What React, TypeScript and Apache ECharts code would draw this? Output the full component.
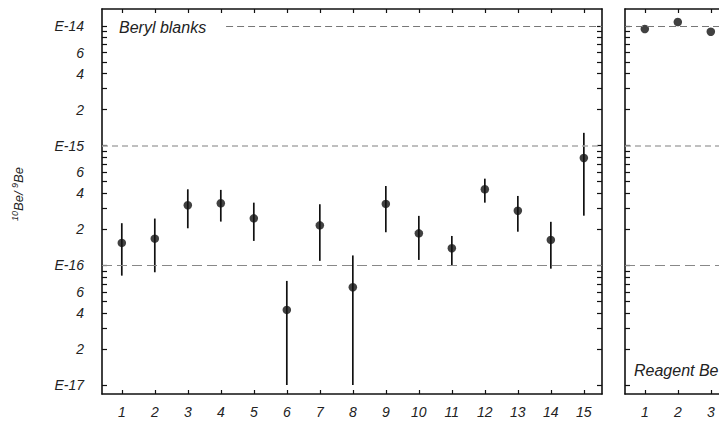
import React, { useEffect, useRef } from "react";
import * as echarts from "echarts";

// ---- data ----
const berylSamples = [1, 2, 3, 4, 5, 6, 7, 8, 9, 10, 11, 12, 13, 14, 15];
const berylRatio = [1.54e-16, 1.67e-16, 3.18e-16, 3.3e-16, 2.47e-16, 4.24e-17, 2.16e-16, 6.56e-17, 3.26e-16, 1.85e-16, 1.39e-16, 4.32e-16, 2.86e-16, 1.63e-16, 7.89e-16];
const berylHigh = [2.25e-16, 2.46e-16, 4.32e-16, 4.27e-16, 3.34e-16, 7.41e-17, 3.24e-16, 1.21e-16, 4.6e-16, 2.59e-16, 1.76e-16, 5.3e-16, 3.8e-16, 2.31e-16, 1.28e-15];
const berylLow = [8.2e-17, 8.75e-17, 2.04e-16, 2.32e-16, 1.6e-16, 1.0e-17, 1.09e-16, 1.0e-17, 1.89e-16, 1.11e-16, 1.0e-16, 3.34e-16, 1.91e-16, 9.38e-17, 2.6e-16];

const reagentSamples = [1, 2, 3];
const reagentRatio = [9.44e-15, 1.08e-14, 8.96e-15];

const xTicks = [1, 2, 3, 4, 5, 6, 7, 8, 9, 10, 11, 12, 13, 14, 15];
const reagentLabels = [1, 2, 3];
const yTicks = [
  1e-17, 2e-17, 3e-17, 4e-17, 5e-17, 6e-17, 7e-17, 8e-17, 9e-17,
  1e-16, 2e-16, 3e-16, 4e-16, 5e-16, 6e-16, 7e-16, 8e-16, 9e-16,
  1e-15, 2e-15, 3e-15, 4e-15, 5e-15, 6e-15, 7e-15, 8e-15, 9e-15,
  1e-14,
];
const yLabelValues = [1e-17, 2e-17, 4e-17, 6e-17, 1e-16, 2e-16, 4e-16, 6e-16, 1e-15, 2e-15, 4e-15, 6e-15, 1e-14];
const refLevels = [1e-14, 1e-15, 1e-16];

const Y_MIN = 8.41e-18;
const Y_MAX = 1.387e-14;
const X_MIN = 0.4;
const X_MAX = 15.55;

const FONT = "'Liberation Sans', Arial, Helvetica, sans-serif";

function fmtY(v: number): string {
  const e = Math.round(Math.log10(v));
  const m = v / Math.pow(10, e);
  if (Math.abs(m - 1) < 1e-6) return "E" + e;
  return String(Math.round(v / Math.pow(10, Math.floor(Math.log10(v) + 1e-9))));
}

const axisLineStyle = { color: "#111", width: 1.6 };

function xAxisDef(gridIndex: number, position: "top" | "bottom", labels: boolean, labelValues: number[]) {
  return {
    type: "value",
    gridIndex,
    position,
    min: X_MIN,
    max: X_MAX,
    axisLine: { show: true, onZero: false, lineStyle: axisLineStyle },
    axisTick: { show: true, inside: true, length: 4, customValues: xTicks, lineStyle: { color: "#111", width: 1.2 } },
    axisLabel: {
      show: labels,
      customValues: labelValues,
      fontStyle: "italic",
      fontFamily: FONT,
      fontSize: 14,
      color: "#222",
      margin: 11,
    },
    splitLine: { show: false },
  };
}

function yAxisDef(gridIndex: number, position: "left" | "right", labels: boolean) {
  return {
    type: "log",
    logBase: 10,
    gridIndex,
    position,
    min: Y_MIN,
    max: Y_MAX,
    axisLine: { show: true, onZero: false, lineStyle: axisLineStyle },
    axisTick: { show: true, inside: true, length: 5, customValues: yTicks, lineStyle: { color: "#111", width: 1.2 } },
    axisLabel: {
      show: labels,
      customValues: yLabelValues,
      formatter: (v: number) => fmtY(v),
      fontStyle: "italic",
      fontFamily: FONT,
      fontSize: 14,
      color: "#222",
      margin: 18,
    },
    splitLine: { show: false },
    minorTick: { show: false },
  };
}

const dashStyles: any[] = [
  { color: "#777", width: 1, type: [7, 4] },
  { color: "#aaa", width: 1.6, type: [6, 4] },
  { color: "#888", width: 1, type: [10, 5] },
];

export default function App() {
  const ref = useRef<HTMLDivElement>(null);

  useEffect(() => {
    if (!ref.current) return;
    const chart = echarts.init(ref.current, undefined, { renderer: "svg" });

    const errData = berylSamples.map((s, i) => [s, berylLow[i], berylHigh[i]]);

    const leftLines = refLevels.map((lv, i) => [
      { coord: [i === 0 ? 4.16 : X_MIN, lv], lineStyle: dashStyles[i] },
      { coord: [X_MAX, lv] },
    ]);
    const rightLines = refLevels.map((lv, i) => [
      { coord: [X_MIN, lv], lineStyle: dashStyles[i] },
      { coord: [X_MAX, lv] },
    ]);

    const option: any = {
      animation: false,
      backgroundColor: "#fff",
      grid: [
        { left: 102, top: 9, width: 500, height: 385, outerBoundsMode: "none", containLabel: false },
        { left: 625, top: 9, width: 500, height: 385, outerBoundsMode: "none", containLabel: false },
      ],
      xAxis: [
        xAxisDef(0, "bottom", true, xTicks),
        xAxisDef(0, "top", false, xTicks),
        xAxisDef(1, "bottom", true, reagentLabels),
        xAxisDef(1, "top", false, reagentLabels),
      ],
      yAxis: [
        yAxisDef(0, "left", true),
        yAxisDef(0, "right", false),
        yAxisDef(1, "left", false),
        yAxisDef(1, "right", false),
      ],
      graphic: [
        {
          type: "text",
          left: 119,
          top: 19,
          style: { text: "Beryl blanks", font: `italic 16px ${FONT}`, fill: "#222" },
        },
        {
          type: "text",
          left: 634,
          top: 362,
          style: { text: "Reagent Be blanks", font: `italic 16px ${FONT}`, fill: "#222" },
        },
        {
          type: "text",
          x: 18,
          y: 194,
          rotation: Math.PI / 2,
          style: {
            text: "{s|10}{n|Be/ }{s|9}{n|Be}",
            fill: "#222",
            align: "center",
            verticalAlign: "middle",
            rich: {
              n: { fontSize: 13, fontStyle: "italic", fontFamily: FONT, fill: "#222" },
              s: { fontSize: 9, fontStyle: "italic", fontFamily: FONT, fill: "#222", padding: [0, 0, 6, 0] },
            },
          },
        },
      ],
      series: [
        {
          type: "custom",
          xAxisIndex: 0,
          yAxisIndex: 0,
          data: errData,
          encode: { x: 0, y: [1, 2] },
          renderItem: (params: any, api: any) => {
            const x = api.value(0);
            const p1 = api.coord([x, api.value(1)]);
            const p2 = api.coord([x, api.value(2)]);
            return {
              type: "line",
              shape: { x1: p1[0], y1: p1[1], x2: p2[0], y2: p2[1] },
              style: { stroke: "#111", lineWidth: 1.7 },
            };
          },
          z: 3,
        },
        {
          type: "scatter",
          xAxisIndex: 0,
          yAxisIndex: 0,
          data: berylSamples.map((s, i) => [s, berylRatio[i]]),
          symbol: "circle",
          symbolSize: 8.5,
          itemStyle: { color: "#111" },
          z: 4,
          markLine: {
            silent: true,
            symbol: "none",
            label: { show: false },
            data: leftLines,
          },
        },
        {
          type: "scatter",
          xAxisIndex: 2,
          yAxisIndex: 2,
          data: reagentSamples.map((s, i) => [s, reagentRatio[i]]),
          symbol: "circle",
          symbolSize: 8.5,
          itemStyle: { color: "#111" },
          z: 4,
          markLine: {
            silent: true,
            symbol: "none",
            label: { show: false },
            data: rightLines,
          },
        },
      ],
    };

    chart.setOption(option);
    return () => chart.dispose();
  }, []);

  return (
    <div
      ref={ref}
      style={{ position: "fixed", left: 0, top: 0, width: 719, height: 422, background: "#fff" }}
    />
  );
}
